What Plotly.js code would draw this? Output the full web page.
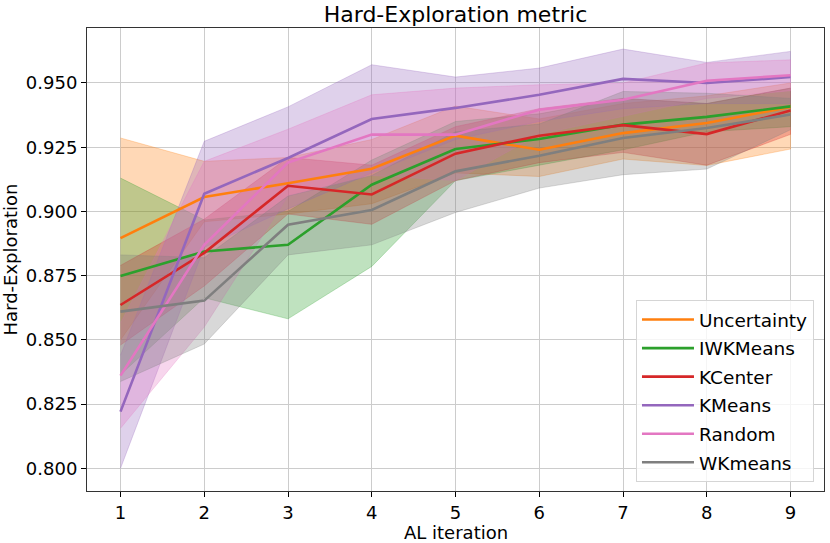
<!DOCTYPE html>
<html>
<head>
<meta charset="utf-8">
<script src="https://cdn.plot.ly/plotly-3.0.1.min.js"></script>
<style>
  body { margin: 0; background: #fff; }
  #chart { width: 830px; height: 543px; }
</style>
</head>
<body>
<div id="chart"></div>
<script>
// AL iterations
var iterations = [1, 2, 3, 4, 5, 6, 7, 8, 9]

// mean, lower and upper values per strategy
var uncertaintyMean  = [0.8896, 0.9056, 0.9110, 0.9166, 0.9295, 0.9240, 0.9305, 0.9344, 0.9407]
var uncertaintyLower = [0.8500, 0.8960, 0.8990, 0.9030, 0.9150, 0.9136, 0.9204, 0.9179, 0.9243]
var uncertaintyUpper = [0.9286, 0.9195, 0.9210, 0.9280, 0.9410, 0.9360, 0.9420, 0.9450, 0.9500]

var iwkmeansMean  = [0.8749, 0.8844, 0.8870, 0.9104, 0.9243, 0.9282, 0.9338, 0.9368, 0.9409]
var iwkmeansLower = [0.8365, 0.8664, 0.8582, 0.8786, 0.9120, 0.9180, 0.9240, 0.9310, 0.9330]
var iwkmeansUpper = [0.9130, 0.8967, 0.9000, 0.9200, 0.9350, 0.9380, 0.9440, 0.9420, 0.9480]

var kcenterMean  = [0.8636, 0.8839, 0.9100, 0.9066, 0.9225, 0.9295, 0.9336, 0.9301, 0.9393]
var kcenterLower = [0.8480, 0.8710, 0.8990, 0.8950, 0.9120, 0.9190, 0.9230, 0.9180, 0.9300]
var kcenterUpper = [0.8790, 0.8970, 0.9210, 0.9180, 0.9330, 0.9400, 0.9440, 0.9420, 0.9480]

var kmeansMean  = [0.8221, 0.9069, 0.9208, 0.9360, 0.9403, 0.9454, 0.9516, 0.9500, 0.9523]
var kmeansLower = [0.8000, 0.8860, 0.9010, 0.9150, 0.9280, 0.9350, 0.9400, 0.9420, 0.9420]
var kmeansUpper = [0.8440, 0.9273, 0.9407, 0.9571, 0.9523, 0.9558, 0.9632, 0.9580, 0.9623]

var randomMean  = [0.8361, 0.8870, 0.9190, 0.9299, 0.9299, 0.9396, 0.9435, 0.9509, 0.9530]
var randomLower = [0.8156, 0.8550, 0.9060, 0.9140, 0.9120, 0.9300, 0.9370, 0.9440, 0.9470]
var randomUpper = [0.8566, 0.9195, 0.9320, 0.9454, 0.9480, 0.9493, 0.9500, 0.9578, 0.9590]

var wkmeansMean  = [0.8610, 0.8653, 0.8948, 0.9006, 0.9156, 0.9217, 0.9286, 0.9325, 0.9377]
var wkmeansLower = [0.8338, 0.8484, 0.8831, 0.8870, 0.8996, 0.9091, 0.9143, 0.9165, 0.9318]
var wkmeansUpper = [0.8831, 0.8820, 0.9060, 0.9140, 0.9310, 0.9340, 0.9467, 0.9460, 0.9440]

var series = [
    { name: 'Uncertainty', mean: uncertaintyMean, lower: uncertaintyLower, upper: uncertaintyUpper, rgb: '255,127,14' },
    { name: 'IWKMeans', mean: iwkmeansMean, lower: iwkmeansLower, upper: iwkmeansUpper, rgb: '44,160,44' },
    { name: 'KCenter', mean: kcenterMean, lower: kcenterLower, upper: kcenterUpper, rgb: '214,39,40' },
    { name: 'KMeans', mean: kmeansMean, lower: kmeansLower, upper: kmeansUpper, rgb: '148,103,189' },
    { name: 'Random', mean: randomMean, lower: randomLower, upper: randomUpper, rgb: '227,119,194' },
    { name: 'WKmeans', mean: wkmeansMean, lower: wkmeansLower, upper: wkmeansUpper, rgb: '127,127,127' },
]

const makeBand = (s) => {
    // polygon: upper edge forward, lower edge backward
    let xs = iterations.concat(iterations.slice().reverse())
    let ys = s.upper.concat(s.lower.slice().reverse())
    return {
        x: xs,
        y: ys,
        type: 'scatter',
        mode: 'lines',
        fill: 'toself',
        fillcolor: 'rgba(' + s.rgb + ',0.3)',
        line: { color: 'rgba(' + s.rgb + ',0.35)', width: 0.8 },
        legendgroup: s.name,
        showlegend: false,
        hoverinfo: 'skip',
    }
}

const makeLine = (s) => {
    return {
        x: iterations,
        y: s.mean,
        type: 'scatter',
        mode: 'lines',
        name: s.name,
        legendgroup: s.name,
        line: { color: 'rgb(' + s.rgb + ')', width: 2.6 },
    }
}

var data = series.map(makeBand).concat(series.map(makeLine))

var font = { family: 'DejaVu Sans, sans-serif', color: '#000' }

var layout = {
    width: 830,
    height: 543,
    margin: { l: 87, r: 6, t: 28, b: 52 },
    paper_bgcolor: '#fff',
    plot_bgcolor: '#fff',
    font: { family: font.family, color: '#000', size: 18 },
    title: {
        text: 'Hard-Exploration metric',
        font: { family: font.family, size: 22, color: '#000' },
        x: 0.5 + (87 - 6) / 2 / 830,
        xanchor: 'center',
        y: 1 - 14 / 543,
        yanchor: 'middle',
    },
    xaxis: {
        range: [0.6, 9.4],
        tickmode: 'array',
        tickvals: iterations,
        ticks: 'outside',
        ticklen: 5,
        tickcolor: '#000',
        tickfont: { family: font.family, size: 18, color: '#000' },
        showgrid: true,
        gridcolor: '#cccccc',
        gridwidth: 1,
        zeroline: false,
        showline: true,
        linecolor: '#333',
        linewidth: 1,
        mirror: true,
    },
    yaxis: {
        range: [0.7912, 0.9714],
        tick0: 0.8,
        dtick: 0.025,
        tickformat: '.3f',
        ticks: 'outside',
        ticklen: 5,
        tickcolor: '#000',
        tickfont: { family: font.family, size: 18, color: '#000' },
        showgrid: true,
        gridcolor: '#cccccc',
        gridwidth: 1,
        zeroline: false,
        showline: true,
        linecolor: '#333',
        linewidth: 1,
        mirror: true,
        title: { text: 'Hard-Exploration', font: { family: font.family, size: 18, color: '#000' }, standoff: 6 },
    },
    annotations: [{
        text: 'AL iteration',
        xref: 'paper',
        yref: 'paper',
        x: 0.5,
        y: -30 / 463,
        xanchor: 'center',
        yanchor: 'top',
        borderpad: 0,
        showarrow: false,
        font: { family: font.family, size: 18, color: '#000' },
    }],
    legend: {
        x: 0.9864,
        xanchor: 'right',
        y: 0.0194,
        yanchor: 'bottom',
        bgcolor: 'rgba(255,255,255,0.8)',
        bordercolor: '#d5d5d5',
        borderwidth: 1,
        traceorder: 'grouped',
        tracegroupgap: 1.5,
        itemwidth: 52,
        font: { family: font.family, size: 18.5, color: '#000' },
    },
    showlegend: true,
}

Plotly.newPlot('chart', data, layout, { staticPlot: true })
</script>
</body>
</html>
